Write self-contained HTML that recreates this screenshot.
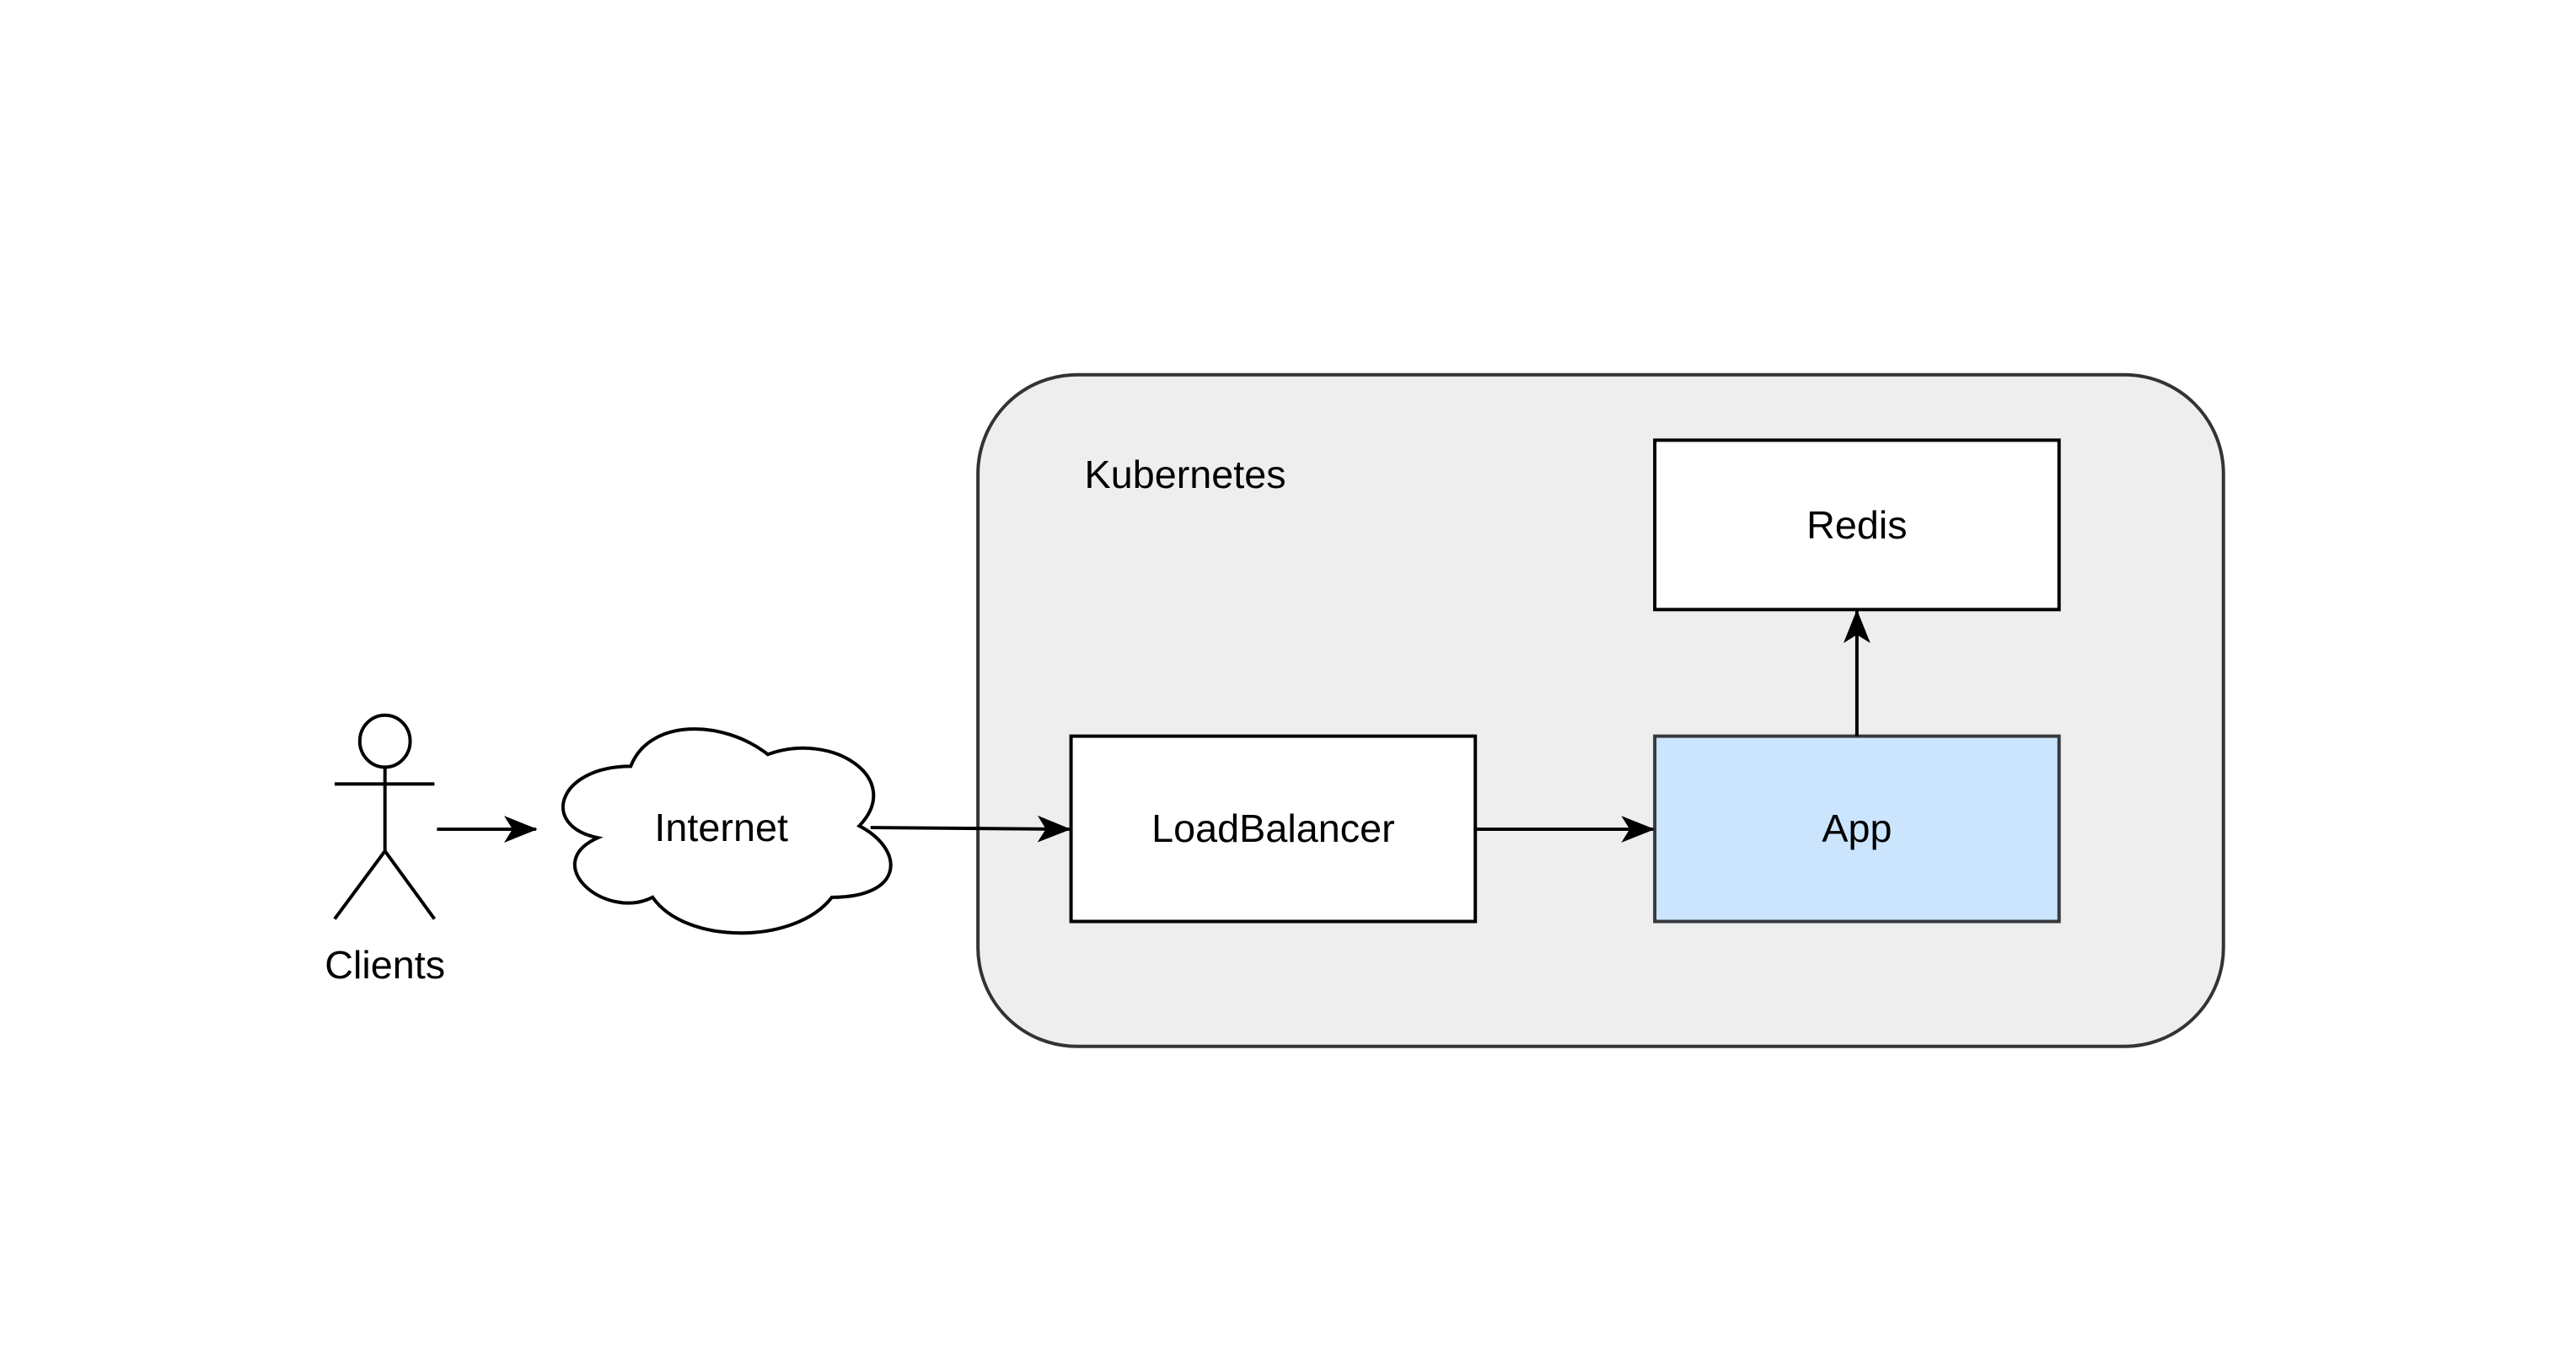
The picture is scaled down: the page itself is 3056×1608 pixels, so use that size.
<!DOCTYPE html>
<html><head><meta charset="utf-8"><style>
html,body{margin:0;padding:0;background:#fff;}
svg{display:block;}
text{font-family:"Liberation Sans",Arial,sans-serif;}
</style></head><body>
<svg width="3056" height="1608" viewBox="0 0 3056 1608" xmlns="http://www.w3.org/2000/svg">
<defs>
<marker id="a" viewBox="0 0 20 16" refX="19" refY="8" markerWidth="10" markerHeight="8" markerUnits="strokeWidth" orient="auto">
<path d="M0,0 L20,8 L0,16 L5,8 Z" fill="#000"/>
</marker>
</defs>
<g transform="scale(0.995)">
<rect x="1166" y="447" width="1485" height="801" rx="118" ry="118" fill="#eeeeee" stroke="#333" stroke-width="4"/>
<text x="1293" y="582" font-size="47" fill="#000">Kubernetes</text>
<rect x="1973" y="525" width="482" height="202" fill="#fff" stroke="#000" stroke-width="4"/>
<text x="2214" y="642" font-size="47" text-anchor="middle">Redis</text>
<rect x="1277" y="878" width="482" height="221" fill="#fff" stroke="#000" stroke-width="4"/>
<text x="1518" y="1004" font-size="47" text-anchor="middle">LoadBalancer</text>
<rect x="1973" y="878" width="482" height="221" fill="#cce5ff" stroke="#36393d" stroke-width="4"/>
<text x="2214" y="1004" font-size="47" text-anchor="middle">App</text>
<line x1="1759" y1="989" x2="1971" y2="989" stroke="#000" stroke-width="4" marker-end="url(#a)"/>
<line x1="2214" y1="878" x2="2214" y2="729" stroke="#000" stroke-width="4" marker-end="url(#a)"/>
<line x1="1038" y1="987" x2="1275" y2="989" stroke="#000" stroke-width="4" marker-end="url(#a)"/>
<line x1="521" y1="989" x2="639" y2="989" stroke="#000" stroke-width="4" marker-end="url(#a)"/>
<g stroke="#000" stroke-width="4" fill="none">
<ellipse cx="459" cy="884" rx="30" ry="31" fill="#fff"/>
<line x1="459" y1="915" x2="459" y2="1015"/>
<line x1="399" y1="935" x2="518" y2="935"/>
<line x1="459" y1="1015" x2="399" y2="1096"/>
<line x1="459" y1="1015" x2="518" y2="1096"/>
</g>
<text x="459" y="1167" font-size="47" text-anchor="middle">Clients</text>
<g transform="translate(643,843) scale(436,284)">
<path d="M0.25,0.25 C0.05,0.25 0,0.5 0.16,0.55 C0,0.66 0.18,0.9 0.31,0.8 C0.4,1 0.7,1 0.8,0.8 C1,0.8 1,0.6 0.875,0.5 C1,0.3 0.8,0.1 0.625,0.2 C0.5,0.05 0.3,0.05 0.25,0.25 Z" fill="#fff" stroke="#000" stroke-width="4" vector-effect="non-scaling-stroke"/>
</g>
<text x="860" y="1003" font-size="47" text-anchor="middle">Internet</text>
</g>
</svg>
</body></html>
